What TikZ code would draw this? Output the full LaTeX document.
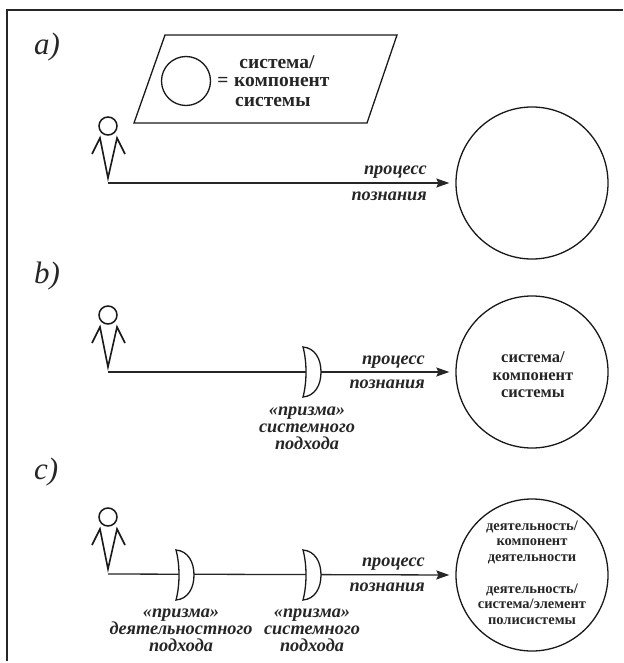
\documentclass[tikz,border=0pt]{standalone}
\usepackage{fontspec}
\setmainfont{Liberation Serif}
\usetikzlibrary{arrows.meta}
\tikzset{
  x=1pt,y=-1pt,
  frameline/.style={line width=1.6pt,draw=black!85},
  shape line/.style={line width=1.3pt,draw=black!90},
  conn/.style={line width=1.3pt,draw=black!85,shorten >=6pt,-{Stealth[length=13pt,width=9pt,inset=2pt]}},
  bodytext/.style={font=\fontsize{19.5}{20}\selectfont\bfseries,align=center,inner sep=0pt,text=black!85},
  midtext/.style={font=\fontsize{16.5}{17.5}\selectfont\bfseries,align=center,inner sep=0pt,text=black!85},
  smalltext/.style={font=\fontsize{14.5}{15.5}\selectfont\bfseries,align=center,inner sep=0pt,text=black!85},
  ittext/.style={font=\fontsize{18.3}{17}\selectfont\bfseries\itshape,align=center,inner sep=0pt,text=black!85},
  tag/.style={font=\fontsize{31}{31}\selectfont\itshape,anchor=base west,inner sep=0pt,text=black!85},
  bigcirc/.style={circle,shape line,minimum size=152pt,inner sep=0pt},
}
\newcommand{\person}[3]{%
  \node[circle,line width=1.5pt,draw=black!90,minimum size=18pt,inner sep=0pt] (#3h) at (#1,#2) {};
  \draw[line width=1.6pt,draw=black!90,line join=miter] (#1-16,#2+28) -- (#1-8,#2+12) -- (#1,#2+52) -- (#1+9,#2+12) -- (#1+17,#2+28);
  \coordinate (#3) at (#1,#2+57);
}
\newcommand{\lens}[3]{%
  \coordinate (#3) at (#1,#2);
  \fill[white] (#1-9,#2-25) .. controls (#1+3,#2-24) and (#1+9,#2-13) .. (#1+9,#2) .. controls (#1+9,#2+13) and (#1+3,#2+24) .. (#1-9,#2+25) .. controls (#1-5,#2+10) and (#1-5,#2-10) .. (#1-9,#2-25);
  \draw[shape line] (#1-9,#2-25) .. controls (#1+3,#2-24) and (#1+9,#2-13) .. (#1+9,#2) .. controls (#1+9,#2+13) and (#1+3,#2+24) .. (#1-9,#2+25) .. controls (#1-5,#2+10) and (#1-5,#2-10) .. (#1-9,#2-25) -- cycle;
}
\begin{document}
\begin{tikzpicture}
\useasboundingbox (0,0) rectangle (623,663);
\fill[white] (0,0) rectangle (623,663);
\draw[frameline] (7,661) -- (7,10) -- (623,10);
% tags
\node[tag] (taga) at (34,55) {a)};
\node[tag] (tagb) at (34,283) {b)};
\node[tag] (tagc) at (34,479) {c)};
% legend
\draw[shape line] (165,35) -- (397,35) -- (367,123) -- (134,123) -- cycle;
\node[circle,shape line,minimum size=49pt,inner sep=0pt] (legc) at (186,81) {};
\node[bodytext] (legeq) at (223,82) {=};
\node[bodytext,anchor=center] (legt1) at (277,62) {система/};
\node[bodytext,anchor=west] (legt2) at (234,82) {компонент};
\node[bodytext,anchor=west] (legt3) at (235,102) {системы};
% row a
\person{108}{126}{pa}
\node[bigcirc] (ca) at (532,183) {};
\draw[conn] (pa) -- (ca.west);
\node[ittext,anchor=east] (la1) at (427,172) {процесс};
\node[ittext,anchor=east] (la2) at (427,196) {познания};
% row b
\person{108}{315}{pb}
\node[bigcirc] (cb) at (532,372) {};
\draw[conn] (pb) -- (cb.west);
\lens{312}{372}{lb}
\node[ittext,anchor=east] (lb1) at (425,362) {процесс};
\node[ittext,anchor=east] (lb2) at (425,384) {познания};
\node[ittext] (lbp) at (307,428) {«призма»\\системного\\подхода};
\node[midtext] (cbt) at (533,375) {система/\\компонент\\системы};
% row c
\person{108}{517}{pc}
\node[bigcirc] (cc) at (532,575) {};
\draw[conn] (pc) -- (cc.west);
\lens{185}{575}{lc1}
\lens{312}{575}{lc2}
\node[ittext,anchor=east] (lc3) at (425,564) {процесс};
\node[ittext,anchor=east] (lc4) at (425,587) {познания};
\node[ittext] (lcp1) at (181,630) {«призма»\\деятельностного\\подхода};
\node[ittext] (lcp2) at (312,630) {«призма»\\системного\\подхода};
\node[smalltext] (cct1) at (532,542) {деятельность/\\компонент\\деятельности};
\node[smalltext] (cct2) at (532,604) {деятельность/\\система/элемент\\полисистемы};
\end{tikzpicture}
\end{document}
